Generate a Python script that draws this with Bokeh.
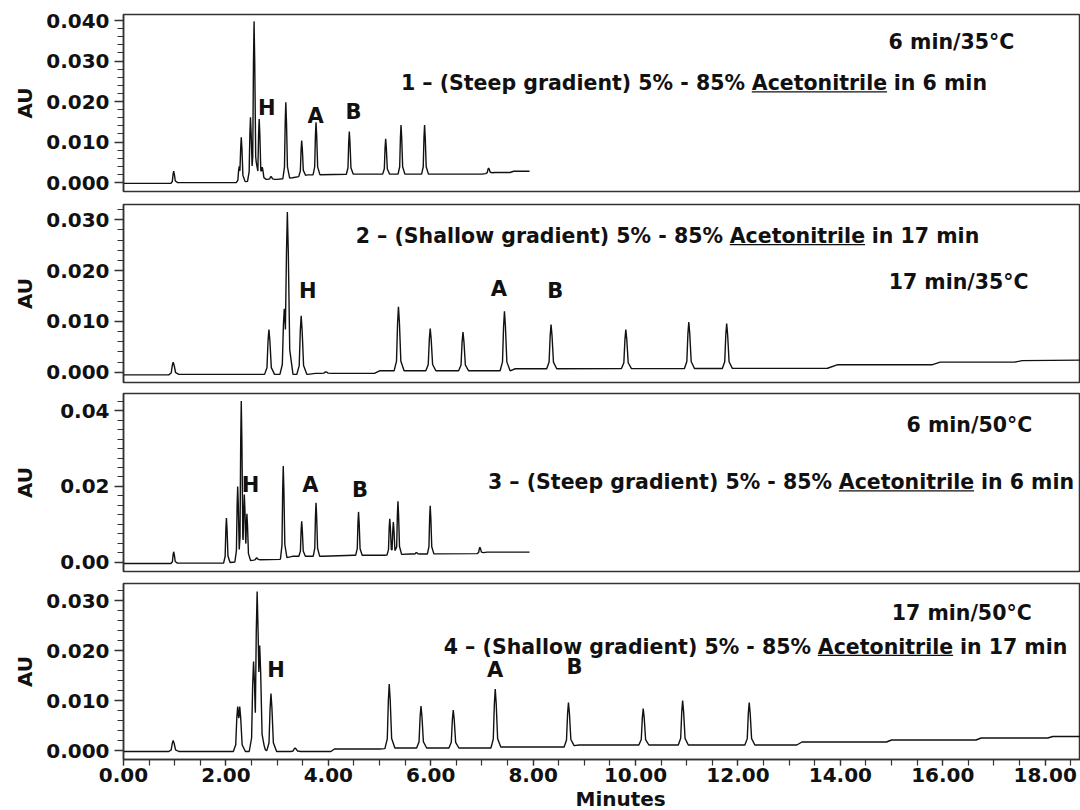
import numpy as np
from bokeh.plotting import figure
from bokeh.layouts import column
from bokeh.models import Range1d, FixedTicker, PrintfTickFormatter, Title
from bokeh.core.properties import value
from bokeh.embed import file_html
from bokeh.resources import INLINE

FONT = "DejaVu Sans"
INK = "#111111"
FRAME = "#333333"
FS = 20.5                    # annotation font size, px
ACET_W_EM = 6.6              # advance width of "Acetonitrile" in DejaVu Sans Bold, em

X_START, X_END = 0.0, 18.69
FIG_W = 1080
BORDER_L = 123

SOLVENT = "Acetonitrile"
X_TITLE = "Minutes"

# ---------------- Run 1: steep gradient, 6 min, 35 °C ----------------
run1_base_t = [0.0, 0.93, 1.03, 2.20, 2.78, 3.00, 3.30, 3.60, 4.50, 7.00, 7.25, 7.55, 7.62, 7.93]
run1_base_y = [-0.0002, -0.0002, 0.0, 0.0, 0.0008, 0.0008, 0.0012, 0.0019, 0.0021, 0.0021, 0.0025, 0.0025, 0.0028, 0.0028]
run1_peak_t = [0.98, 2.26, 2.30, 2.48, 2.55, 2.65, 2.71, 2.88, 3.17, 3.48, 3.76, 4.41, 5.12, 5.42, 5.88, 7.13]
run1_peak_au = [0.0028, 0.0040, 0.0112, 0.0161, 0.0398, 0.0157, 0.0038, 0.0015, 0.0198, 0.0104,
                0.0149, 0.0126, 0.0108, 0.0142, 0.0142, 0.0036]
run1_mark_text = ["H", "A", "B"]
run1_mark_t = [2.80, 3.75, 4.49]
run1_mark_au = [0.0183, 0.0165, 0.0174]
run1_condition = "6 min/35°C"
run1_head = "1 – (Steep gradient) 5% - 85%"
run1_tail = "in 6 min"

# ---------------- Run 2: shallow gradient, 17 min, 35 °C ----------------
run2_base_t = [0.0, 0.93, 1.02, 3.60, 3.75, 4.90, 5.00, 7.55, 7.65, 13.75, 13.95, 15.80, 15.95, 17.40, 17.55, 18.69]
run2_base_y = [-0.0005, -0.0005, -0.0004, -0.0004, -0.0002, -0.0002, 0.0003, 0.0003, 0.0007, 0.0008,
               0.0015, 0.0015, 0.0020, 0.0020, 0.0023, 0.0024]
run2_peak_t = [0.97, 2.84, 3.14, 3.20, 3.47, 3.95, 5.37, 5.99, 6.63, 7.44, 8.35, 9.81, 11.04, 11.78]
run2_peak_au = [0.0020, 0.0084, 0.0125, 0.0315, 0.0111, 0.0001, 0.0129, 0.0086, 0.0079, 0.0120,
                0.0094, 0.0084, 0.0099, 0.0096]
run2_mark_text = ["H", "A", "B"]
run2_mark_t = [3.60, 7.33, 8.43]
run2_mark_au = [0.0160, 0.0164, 0.0160]
run2_condition = "17 min/35°C"
run2_head = "2 – (Shallow gradient) 5% - 85%"
run2_tail = "in 17 min"

# ---------------- Run 3: steep gradient, 6 min, 50 °C ----------------
run3_base_t = [0.0, 0.93, 1.03, 1.95, 2.62, 3.05, 3.30, 3.90, 4.50, 5.10, 5.60, 6.90, 7.10, 7.93]
run3_base_y = [-0.0003, -0.0003, -0.0002, -0.0002, 0.0007, 0.0008, 0.0016, 0.0016, 0.0019, 0.0019,
               0.0022, 0.0023, 0.0027, 0.0027]
run3_peak_t = [0.98, 2.01, 2.23, 2.30, 2.36, 2.41, 2.60, 3.12, 3.48, 3.76, 4.59, 5.20, 5.27, 5.36,
               5.72, 5.99, 6.96]
run3_peak_au = [0.0028, 0.0117, 0.0200, 0.0425, 0.0179, 0.0128, 0.0012, 0.0254, 0.0108, 0.0157,
                0.0133, 0.0115, 0.0106, 0.0161, 0.0026, 0.0149, 0.0040]
run3_mark_text = ["H", "A", "B"]
run3_mark_t = [2.48, 3.65, 4.62]
run3_mark_au = [0.0204, 0.0204, 0.0190]
run3_condition = "6 min/50°C"
run3_head = "3 – (Steep gradient) 5% - 85%"
run3_tail = "in 6 min"

# ---------------- Run 4: shallow gradient, 17 min, 50 °C ----------------
run4_base_t = [0.0, 4.05, 4.12, 5.00, 5.30, 7.20, 7.40, 8.60, 8.90, 13.15, 13.25, 14.90, 15.00,
               16.65, 16.75, 18.05, 18.15, 18.69]
run4_base_y = [-0.0002, -0.0002, 0.0003, 0.0003, 0.0005, 0.0005, 0.0007, 0.0007, 0.0011, 0.0011,
               0.0017, 0.0017, 0.0021, 0.0021, 0.0025, 0.0025, 0.0028, 0.0028]
run4_peak_t = [0.97, 2.23, 2.27, 2.54, 2.61, 2.66, 2.70, 2.88, 3.35, 5.19, 5.81, 6.44, 7.26, 8.69,
               10.15, 10.92, 12.22]
run4_peak_au = [0.0020, 0.0088, 0.0088, 0.0178, 0.0318, 0.0210, 0.0035, 0.0114, 0.0005, 0.0133,
                0.0089, 0.0081, 0.0123, 0.0096, 0.0084, 0.0100, 0.0096]
run4_mark_text = ["H", "A", "B"]
run4_mark_t = [2.98, 7.26, 8.81]
run4_mark_au = [0.0161, 0.0161, 0.0167]
run4_condition = "17 min/50°C"
run4_head = "4 – (Shallow gradient) 5% - 85%"
run4_tail = "in 17 min"

# x axis
x_major = [0, 2, 4, 6, 8, 10, 12, 14, 16, 18]
x_minor = [i * 0.5 for i in range(38)]

# Peak outline (relative time in peak widths, relative height)
PROF_X = np.array([-1.0, -0.45, -0.2, 0.0, 0.22, 0.55, 1.3])
PROF_Y = np.array([0.0, 0.15, 0.75, 1.0, 0.75, 0.15, 0.0])


def build_trace(base_t, base_y, peak_t, peak_au, w):
    """Baseline plus the upper envelope of the peak outlines, so every apex keeps its height."""
    bt = np.asarray(base_t, float)
    by = np.asarray(base_y, float)
    knots = [bt] + [t + PROF_X * w for t in peak_t]
    tt = np.unique(np.concatenate(knots))
    tt = tt[(tt >= bt[0]) & (tt <= bt[-1])]
    env = np.zeros_like(tt)
    for t, top in zip(peak_t, peak_au):
        h = top - np.interp(t, bt, by)
        env = np.maximum(env, h * np.interp(tt, t + PROF_X * w, PROF_Y, left=0.0, right=0.0))
    return tt, np.interp(tt, bt, by) + env


runs = [
    dict(base_t=run1_base_t, base_y=run1_base_y, peak_t=run1_peak_t, peak_au=run1_peak_au, w=0.058,
         mark_text=run1_mark_text, mark_t=run1_mark_t, mark_au=run1_mark_au,
         cond=run1_condition, head=run1_head, tail=run1_tail,
         cond_xy=(16.17, 0.0346), acet_xy=(12.27, 0.0245),
         yr=(-0.0022, 0.0415), major=[0.0, 0.01, 0.02, 0.03, 0.04], minor_step=0.002, top_val=0.0415,
         fmt="%.3f", h=197, bt=14, bb=6, au_off=6),
    dict(base_t=run2_base_t, base_y=run2_base_y, peak_t=run2_peak_t, peak_au=run2_peak_au, w=0.085,
         mark_text=run2_mark_text, mark_t=run2_mark_t, mark_au=run2_mark_au,
         cond=run2_condition, head=run2_head, tail=run2_tail,
         cond_xy=(16.31, 0.0178), acet_xy=(11.84, 0.0268),
         yr=(-0.0020, 0.0330), major=[0.0, 0.01, 0.02, 0.03], minor_step=0.002, top_val=0.0330,
         fmt="%.3f", h=190, bt=7, bb=5, au_off=6),
    dict(base_t=run3_base_t, base_y=run3_base_y, peak_t=run3_peak_t, peak_au=run3_peak_au, w=0.055,
         mark_text=run3_mark_text, mark_t=run3_mark_t, mark_au=run3_mark_au,
         cond=run3_condition, head=run3_head, tail=run3_tail,
         cond_xy=(16.52, 0.0363), acet_xy=(13.97, 0.0211),
         yr=(-0.0024, 0.0445), major=[0.0, 0.02, 0.04], minor_step=0.0025, top_val=0.0445,
         fmt="%.2f", h=190, bt=6, bb=6, au_off=20),
    dict(base_t=run4_base_t, base_y=run4_base_y, peak_t=run4_peak_t, peak_au=run4_peak_au, w=0.085,
         mark_text=run4_mark_text, mark_t=run4_mark_t, mark_au=run4_mark_au,
         cond=run4_condition, head=run4_head, tail=run4_tail,
         cond_xy=(16.37, 0.0275), acet_xy=(13.56, 0.0207),
         yr=(-0.0018, 0.0334), major=[0.0, 0.01, 0.02, 0.03], minor_step=0.002, top_val=0.0334,
         fmt="%.3f", h=233, bt=6, bb=50, au_off=6),
]

x_range = Range1d(X_START, X_END)
px_per_min = (FIG_W - BORDER_L) / (X_END - X_START)

figs = []
for i, r in enumerate(runs):
    last = i == len(runs) - 1
    lo, hi = r["yr"]
    frame_h = r["h"] - r["bt"] - r["bb"]
    px_per_au = frame_h / (hi - lo)

    p = figure(width=FIG_W, height=r["h"], x_range=x_range, y_range=Range1d(lo, hi),
               output_backend="svg", toolbar_location=None, tools="",
               x_axis_location="below" if last else None,
               min_border_left=BORDER_L, min_border_right=0,
               min_border_top=r["bt"], min_border_bottom=r["bb"])
    p.grid.visible = False
    p.background_fill_color = "white"
    p.border_fill_color = "white"
    p.outline_line_color = FRAME
    p.outline_line_width = 1.5

    n_minor = int(round(r["top_val"] / r["minor_step"])) + 1
    minor = [round(k * r["minor_step"], 6) for k in range(n_minor) if k * r["minor_step"] <= hi]
    ya = p.yaxis[0]
    ya.ticker = FixedTicker(ticks=r["major"], minor_ticks=minor)
    ya.formatter = PrintfTickFormatter(format=r["fmt"])
    ya.major_label_text_font = FONT
    ya.major_label_text_font_style = "bold"
    ya.major_label_text_font_size = "20px"
    ya.major_label_text_color = INK
    ya.major_label_standoff = 5
    ya.major_tick_in = 0
    ya.major_tick_out = 9
    ya.minor_tick_in = 0
    ya.minor_tick_out = 6
    ya.major_tick_line_color = FRAME
    ya.minor_tick_line_color = FRAME
    ya.major_tick_line_width = 1.3
    ya.minor_tick_line_width = 1.2
    ya.axis_line_color = FRAME
    ya.axis_line_width = 1.5
    ya.axis_label = "AU"
    ya.axis_label_text_font = FONT
    ya.axis_label_text_font_style = "bold"
    ya.axis_label_text_font_size = "20px"
    ya.axis_label_text_color = INK
    ya.axis_label_standoff = r["au_off"]

    if last:
        xa = p.xaxis[0]
        xa.ticker = FixedTicker(ticks=x_major, minor_ticks=x_minor)
        xa.formatter = PrintfTickFormatter(format="%.2f")
        xa.major_label_text_font = FONT
        xa.major_label_text_font_style = "bold"
        xa.major_label_text_font_size = "20px"
        xa.major_label_text_color = INK
        xa.major_label_standoff = 2
        xa.major_tick_in = 0
        xa.major_tick_out = 6
        xa.minor_tick_in = 0
        xa.minor_tick_out = 6
        xa.major_tick_line_color = FRAME
        xa.minor_tick_line_color = FRAME
        xa.major_tick_line_width = 1.3
        xa.minor_tick_line_width = 1.2
        xa.axis_line_color = FRAME
        xa.axis_line_width = 1.5
        # axis title, set slightly right of the frame centre
        p.add_layout(Title(text=X_TITLE, align="left", offset=452, standoff=0,
                           text_font=FONT, text_font_style="bold", text_font_size="20px",
                           text_color=INK, text_line_height=0.9), "below")

    # chromatogram
    tt, yy = build_trace(r["base_t"], r["base_y"], r["peak_t"], r["peak_au"], r["w"])
    p.line(tt, yy, line_color=INK, line_width=1.4)

    txt = dict(text_font=value(FONT), text_font_style="bold", text_color=INK, text_baseline="middle")

    # peak identifiers
    p.text(x=r["mark_t"], y=r["mark_au"], text=r["mark_text"], text_align="center",
           text_font_size="21px", **txt)

    # run conditions
    cx, cy = r["cond_xy"]
    p.text(x=[cx], y=[cy], text=[r["cond"]], text_align="center", text_font_size=f"{FS}px", **txt)

    # gradient description with the solvent name underlined
    ax, ay = r["acet_xy"]
    acet_w = ACET_W_EM * FS / px_per_min
    gap = 0.33 * FS / px_per_min
    p.text(x=[ax - gap], y=[ay], text=[r["head"]], text_align="right", text_font_size=f"{FS}px", **txt)
    p.text(x=[ax], y=[ay], text=[SOLVENT], text_align="left", text_font_size=f"{FS}px", **txt)
    p.text(x=[ax + acet_w + gap], y=[ay], text=[r["tail"]], text_align="left",
           text_font_size=f"{FS}px", **txt)
    uy = ay - 8.5 / px_per_au
    p.segment(x0=[ax], y0=[uy], x1=[ax + acet_w], y1=[uy], line_color=INK, line_width=1.3)

    figs.append(p)

layout = column(*figs, spacing=0)
open("out.html", "w").write(file_html(layout, INLINE))
